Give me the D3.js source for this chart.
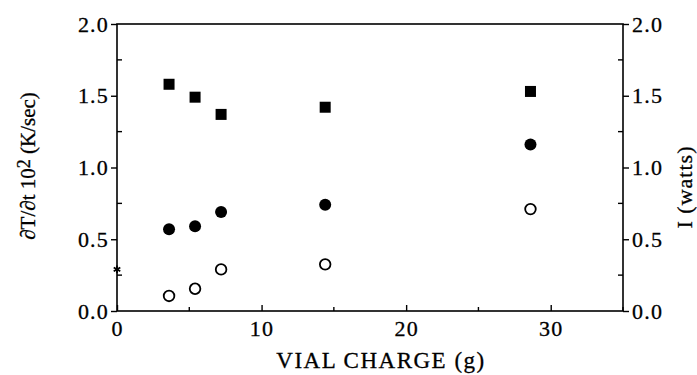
<!DOCTYPE html>
<html>
<head>
<meta charset="utf-8">
<script src="https://cdn.jsdelivr.net/npm/d3@7"></script>
<style>
  body { margin: 0; background: #fff; }
  text { font-family: "Liberation Serif", "DejaVu Serif", serif; fill: #000; stroke: #000; stroke-width: 0.3; }
</style>
</head>
<body>
<svg width="697" height="375"></svg>
<script>
// Set data
const charge = [3.6, 5.4, 7.2, 14.4, 28.6];
const rateSquares = [1.58, 1.49, 1.37, 1.42, 1.53];   // dT/dt 10^2
const powerFilled = [0.57, 0.59, 0.69, 0.74, 1.16];   // I (watts)
const powerOpen = [0.105, 0.155, 0.29, 0.325, 0.71];
const starPoint = [{x: 0, y: 0.29}];

const xTicks = [0, 10, 20, 30];
const xMinor = [5, 15, 25, 35];
const yTicks = [0, 0.5, 1.0, 1.5, 2.0];
const yMinor = [0.25, 0.75, 1.25, 1.75];

// Set width and height
const width = 697, height = 375;
const margin = {top: 24, right: 74, bottom: 64, left: 117};

const svg = d3.select("svg");

const x = d3.scaleLinear().domain([0, 35]).range([margin.left, width - margin.right]);
const y = d3.scaleLinear().domain([0, 2]).range([height - margin.bottom, margin.top]);

// frame
svg.append("rect")
    .attr("x", x(0)).attr("y", y(2))
    .attr("width", x(35) - x(0)).attr("height", y(0) - y(2))
    .attr("fill", "none").attr("stroke", "#000").attr("stroke-width", 1.6);

// axes
const fmt = d3.format(".1f");
const leftAxis = d3.axisLeft(y).tickValues(yTicks).tickFormat(fmt).tickSize(6).tickPadding(2);
const rightAxis = d3.axisRight(y).tickValues(yTicks).tickFormat(fmt).tickSize(6).tickPadding(3);
const bottomAxis = d3.axisBottom(x).tickValues(xTicks).tickFormat(d3.format("d")).tickSize(-6).tickPadding(9);

const styleAxis = function(g){
    g.select(".domain").remove();
    g.selectAll("line").attr("stroke", "#000").attr("stroke-width", 1.4);
    g.selectAll("text").style("font-size", "22px").style("letter-spacing", "1.2px");
}

svg.append("g").attr("transform", `translate(${x(0)},0)`).call(leftAxis).call(styleAxis);
svg.append("g").attr("transform", `translate(${x(35)},0)`).call(rightAxis).call(styleAxis);
svg.append("g").attr("transform", `translate(0,${y(0)})`).call(bottomAxis).call(styleAxis);

// minor ticks (inward)
svg.append("g").selectAll("line").data(yMinor).join("line")
    .attr("x1", x(0)).attr("x2", x(0) + 5)
    .attr("y1", d => y(d)).attr("y2", d => y(d))
    .attr("stroke", "#000").attr("stroke-width", 1.4);
svg.append("g").selectAll("line").data(yMinor).join("line")
    .attr("x1", x(35)).attr("x2", x(35) - 5)
    .attr("y1", d => y(d)).attr("y2", d => y(d))
    .attr("stroke", "#000").attr("stroke-width", 1.4);
svg.append("g").selectAll("line").data(xMinor).join("line")
    .attr("x1", d => x(d)).attr("x2", d => x(d))
    .attr("y1", y(0)).attr("y2", y(0) - 4)
    .attr("stroke", "#000").attr("stroke-width", 1.4);

// markers
svg.append("g").selectAll("rect").data(charge).join("rect")
    .attr("x", (d, i) => x(d) - 5.5)
    .attr("y", (d, i) => y(rateSquares[i]) - 5.5)
    .attr("width", 11).attr("height", 11)
    .attr("fill", "#000");

svg.append("g").selectAll("circle").data(charge).join("circle")
    .attr("cx", d => x(d))
    .attr("cy", (d, i) => y(powerFilled[i]))
    .attr("r", 6)
    .attr("fill", "#000");

svg.append("g").selectAll("circle").data(charge).join("circle")
    .attr("cx", d => x(d))
    .attr("cy", (d, i) => y(powerOpen[i]))
    .attr("r", 5.3)
    .attr("fill", "none").attr("stroke", "#000").attr("stroke-width", 1.8);

svg.append("g").selectAll("path").data(starPoint).join("path")
    .attr("transform", d => `translate(${x(d.x)},${y(d.y)})`)
    .attr("d", d3.symbol(d3.symbolAsterisk, 40))
    .attr("stroke", "#000").attr("stroke-width", 1.8).attr("fill", "none");

// titles
svg.append("text")
    .attr("x", 381).attr("y", 368)
    .attr("text-anchor", "middle")
    .style("font-size", "23px").style("letter-spacing", "1.5px")
    .text("VIAL CHARGE (g)");

const leftTitle = svg.append("text")
    .attr("transform", `translate(35,166) rotate(-90)`)
    .attr("text-anchor", "middle")
    .style("font-size", "21px");
leftTitle.append("tspan").text("∂T/∂t 10");
leftTitle.append("tspan").attr("dy", -5).style("font-size", "18px").text("2");
leftTitle.append("tspan").attr("dy", 5).text(" (K/sec)");

svg.append("text")
    .attr("transform", `translate(692,187) rotate(-90)`)
    .attr("text-anchor", "middle")
    .style("font-size", "22px").style("letter-spacing", "1px")
    .text("I (watts)");
</script>
</body>
</html>
